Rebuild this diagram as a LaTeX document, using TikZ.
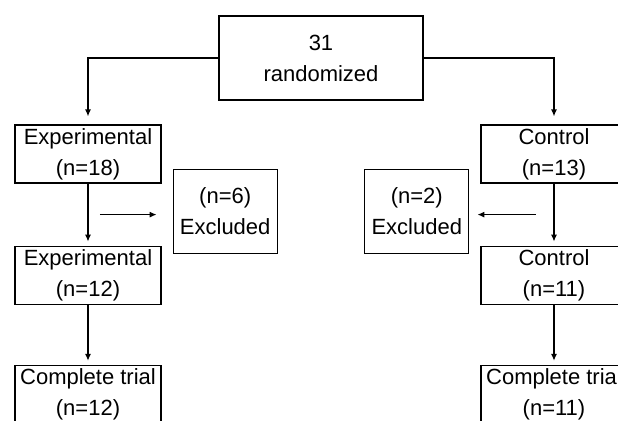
\documentclass[tikz,border=0pt]{standalone}
\usepackage{fontspec}
\setmainfont{Liberation Sans}
\usetikzlibrary{positioning, calc, arrows.meta}

\begin{document}
\begin{tikzpicture}[
            x=1pt, y=1pt,
            node distance=30pt,
            box/.style={draw, line width=0.6pt, minimum width=73pt, minimum height=29pt, inner sep=0pt, align=center, font=\fontsize{11}{15.5}\selectfont},
            bigbox/.style={box, minimum width=102pt, minimum height=42pt},
            exbox/.style={box, minimum width=52pt, minimum height=42pt},
            arr/.style={-{Latex[length=3.5pt,width=3pt]}, line width=0.6pt, shorten >=2pt}
        ]
            \useasboundingbox (0,0) rectangle (309,210);
            \clip (0,0) rectangle (309,210);

            \node[bigbox] (rand) at (160.5,181) {31\\randomized};

            % experimental arm
            \node[box] (exp1) at (44,133) {Experimental\\(n=18)};
            \node[box, below=31pt of exp1] (exp2) {Experimental\\(n=12)};
            \node[box, below=30pt of exp2] (exp3) {Complete trial\\(n=12)};
            \node[exbox] (exc1) at (112.6,104.4) {(n=6)\\Excluded};

            % control arm
            \node[box] (ctl1) at (277,133) {Control\\(n=13)};
            \node[box, below=31pt of ctl1] (ctl2) {Control\\(n=11)};
            \node[box, below=30pt of ctl2] (ctl3) {Complete trial\\(n=11)};
            \node[exbox] (exc2) at (208.4,104.4) {(n=2)\\Excluded};

            \coordinate (exA) at ($($(exp1.south)!0.5!(exp2.north)$)+(6,0)$);
            \coordinate (exB) at ($(exA -| exc1.west)+(-8,0)$);
            \coordinate (ctA) at ($($(ctl1.south)!0.5!(ctl2.north)$)+(-9,0)$);
            \coordinate (ctB) at ($(ctA -| exc2.east)+(4,0)$);

            \draw[arr, shorten >=4pt] (rand.west) -| (exp1.north);
            \draw[arr, shorten >=4pt] (rand.east) -| (ctl1.north);
            \draw[arr] (exp1) -- (exp2);
            \draw[arr] (exp2) -- (exp3);
            \draw[arr] (ctl1) -- (ctl2);
            \draw[arr] (ctl2) -- (ctl3);
            \draw[arr, shorten >=0pt] (exA) -- (exB);
            \draw[arr, shorten >=0pt] (ctA) -- (ctB);
        \end{tikzpicture}
\end{document}
